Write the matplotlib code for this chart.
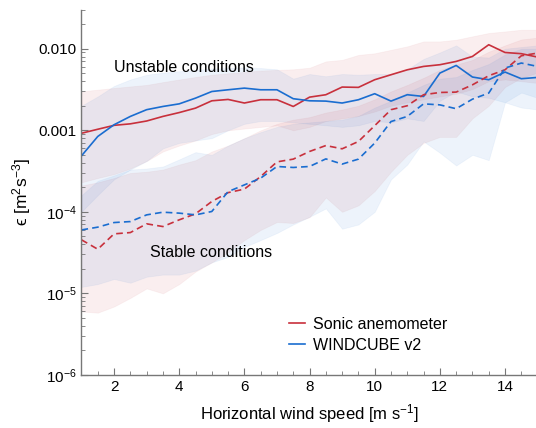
#!/usr/bin/env python3

# Dissipation rate vs horizontal wind speed, sonic anemometer vs WINDCUBE,
# for unstable (solid) and stable (dashed) conditions, with spread bands.

import numpy as np
import matplotlib
matplotlib.use("Agg")
import matplotlib.pyplot as plt
from matplotlib.colors import to_rgba
from matplotlib.ticker import FixedLocator, FuncFormatter

plt.rcParams["font.family"] = ["Liberation Sans", "DejaVu Sans"]
plt.rcParams["mathtext.fontset"] = "custom"
plt.rcParams["mathtext.rm"] = "Liberation Sans"
plt.rcParams["mathtext.it"] = "Liberation Sans:italic"

RED = "#c8303c"
BLUE = "#1a6dd0"

wind_speed = [1, 1.5, 2, 2.5, 3, 3.5, 4, 4.5, 5, 5.5, 6, 6.5, 7, 7.5, 8,
              8.5, 9, 9.5, 10, 10.5, 11, 11.5, 12, 12.5, 13, 13.5, 14, 14.5, 15]

# unstable conditions
sonic_unstable = [9.2e-4, 1.03e-3, 1.15e-3, 1.20e-3, 1.30e-3, 1.48e-3, 1.65e-3, 1.87e-3,
                  2.30e-3, 2.39e-3, 2.16e-3, 2.37e-3, 2.37e-3, 1.96e-3, 2.55e-3, 2.73e-3,
                  3.39e-3, 3.36e-3, 4.17e-3, 4.80e-3, 5.52e-3, 6.07e-3, 6.37e-3, 6.99e-3,
                  8.05e-3, 1.12e-2, 9.0e-3, 8.7e-3, 7.9e-3]
sonic_unstable_lo = [2.3e-4, 2.6e-4, 2.9e-4, 3.4e-4, 4.2e-4, 5.5e-4, 6.5e-4, 7.5e-4,
                     9.0e-4, 1.0e-3, 1.05e-3, 1.1e-3, 1.15e-3, 1.0e-3, 1.1e-3, 1.3e-3,
                     1.4e-3, 1.5e-3, 1.7e-3, 2.0e-3, 2.2e-3, 2.4e-3, 2.6e-3, 2.8e-3,
                     3.2e-3, 4.0e-3, 4.2e-3, 4.0e-3, 3.8e-3]
sonic_unstable_hi = [3.0e-3, 3.15e-3, 3.3e-3, 3.45e-3, 3.6e-3, 3.9e-3, 4.2e-3, 4.5e-3,
                     4.8e-3, 5.0e-3, 5.2e-3, 5.4e-3, 5.5e-3, 5.6e-3, 5.85e-3, 7.0e-3,
                     7.3e-3, 8.4e-3, 8.8e-3, 9.7e-3, 1.07e-2, 1.23e-2, 1.23e-2, 1.29e-2,
                     1.42e-2, 1.56e-2, 1.63e-2, 1.71e-2, 1.71e-2]

windcube_unstable = [4.86e-4, 8.4e-4, 1.17e-3, 1.48e-3, 1.79e-3, 1.96e-3, 2.11e-3, 2.48e-3,
                     2.99e-3, 3.14e-3, 3.29e-3, 3.14e-3, 3.14e-3, 2.44e-3, 2.30e-3, 2.28e-3,
                     2.16e-3, 2.37e-3, 2.81e-3, 2.28e-3, 2.73e-3, 2.60e-3, 5.03e-3, 6.24e-3,
                     4.50e-3, 4.17e-3, 5.18e-3, 4.29e-3, 4.45e-3]
windcube_unstable_lo = [1.0e-4, 1.6e-4, 2.5e-4, 3.3e-4, 4.2e-4, 6.0e-4, 7.0e-4, 7.5e-4,
                        8.0e-4, 1.0e-3, 1.2e-3, 1.3e-3, 1.3e-3, 1.25e-3, 1.2e-3, 1.15e-3,
                        1.1e-3, 1.15e-3, 1.3e-3, 1.25e-3, 1.4e-3, 1.3e-3, 2.3e-3, 3.0e-3,
                        2.6e-3, 2.5e-3, 2.2e-3, 1.9e-3, 1.8e-3]
windcube_unstable_hi = [2.0e-3, 2.6e-3, 3.5e-3, 4.2e-3, 4.8e-3, 5.1e-3, 5.3e-3, 5.5e-3,
                        5.7e-3, 5.8e-3, 5.9e-3, 5.8e-3, 5.6e-3, 4.3e-3, 4.9e-3, 4.6e-3,
                        4.9e-3, 4.8e-3, 4.9e-3, 4.9e-3, 5.6e-3, 7.5e-3, 9.0e-3, 1.1e-2,
                        8.0e-3, 7.8e-3, 1.0e-2, 1.05e-2, 1.1e-2]

# stable conditions
sonic_stable = [4.54e-5, 3.48e-5, 5.37e-5, 5.57e-5, 7.13e-5, 6.6e-5, 7.98e-5, 9.45e-5,
                1.34e-4, 1.72e-4, 1.90e-4, 2.71e-4, 4.1e-4, 4.43e-4, 5.5e-4, 6.5e-4,
                5.93e-4, 7.29e-4, 1.14e-3, 1.79e-3, 2.0e-3, 2.73e-3, 2.91e-3, 2.94e-3,
                3.61e-3, 4.67e-3, 5.52e-3, 8.2e-3, 8.85e-3]
sonic_stable_lo = [6.0e-6, 5.8e-6, 6.9e-6, 8.8e-6, 1.15e-5, 1.0e-5, 1.3e-5, 1.85e-5,
                   2.4e-5, 3.2e-5, 4.5e-5, 6.0e-5, 7.5e-5, 7.3e-5, 8.6e-5, 1.5e-4,
                   1.0e-4, 1.2e-4, 1.8e-4, 3.1e-4, 5.0e-4, 7.0e-4, 8.3e-4, 8.3e-4,
                   1.4e-3, 2.0e-3, 3.4e-3, 4.4e-3, 5.1e-3]
sonic_stable_hi = [2.1e-4, 2.3e-4, 2.6e-4, 3.0e-4, 3.1e-4, 3.3e-4, 3.8e-4, 4.3e-4,
                   5.5e-4, 6.5e-4, 8.0e-4, 1.0e-3, 1.2e-3, 1.35e-3, 1.45e-3, 1.65e-3,
                   1.8e-3, 2.0e-3, 2.4e-3, 3.0e-3, 3.6e-3, 4.4e-3, 5.5e-3, 6.4e-3,
                   7.3e-3, 9.2e-3, 1.1e-2, 1.3e-2, 1.37e-2]

windcube_stable = [6.0e-5, 6.49e-5, 7.39e-5, 7.6e-5, 9.18e-5, 9.9e-5, 9.64e-5, 9.18e-5,
                   1.01e-4, 1.77e-4, 2.14e-4, 2.59e-4, 3.6e-4, 3.5e-4, 3.6e-4, 4.46e-4,
                   3.85e-4, 4.43e-4, 6.97e-4, 1.28e-3, 1.48e-3, 2.11e-3, 2.05e-3, 1.84e-3,
                   2.41e-3, 2.86e-3, 5.8e-3, 6.68e-3, 6.07e-3]
windcube_stable_lo = [1.2e-5, 1.3e-5, 1.5e-5, 1.35e-5, 1.6e-5, 1.7e-5, 1.7e-5, 1.9e-5,
                      2.4e-5, 2.8e-5, 3.7e-5, 4.5e-5, 5.5e-5, 7.0e-5, 8.7e-5, 1.1e-4,
                      6.2e-5, 7.0e-5, 1.0e-4, 2.5e-4, 3.8e-4, 7.3e-4, 5.3e-4, 3.7e-4,
                      5.0e-4, 4.3e-4, 2.2e-3, 2.9e-3, 2.5e-3]
windcube_stable_hi = [1.6e-4, 2.4e-4, 2.8e-4, 3.3e-4, 3.4e-4, 3.6e-4, 4.4e-4, 5.4e-4,
                      5.0e-4, 6.5e-4, 8.0e-4, 9.5e-4, 1.1e-3, 1.2e-3, 1.25e-3, 1.3e-3,
                      1.35e-3, 1.5e-3, 1.9e-3, 2.3e-3, 2.9e-3, 3.6e-3, 4.3e-3, 4.5e-3,
                      5.5e-3, 6.5e-3, 8.5e-3, 1.0e-2, 1.0e-2]

ytick_vals = [1e-6, 1e-5, 1e-4, 1e-3, 1e-2]
ytick_labels = ["10$^{-6}$", "10$^{-5}$", "10$^{-4}$", "0.001", "0.010"]


def band(ax, lo, hi, color):
	ax.fill_between(wind_speed, lo, hi, facecolor=to_rgba(color, 0.08),
	                edgecolor=to_rgba(color, 0.05), linewidth=0.6)


def fmt_ytick(val, pos):
	for tv, lab in zip(ytick_vals, ytick_labels):
		if np.isclose(val, tv, rtol=1e-3):
			return lab
	return ""


fig = plt.figure(figsize=(5.36, 4.28), dpi=100)
ax = fig.add_axes([0.152, 0.124, 0.851, 0.853])

band(ax, sonic_unstable_lo, sonic_unstable_hi, RED)
band(ax, windcube_unstable_lo, windcube_unstable_hi, BLUE)
band(ax, sonic_stable_lo, sonic_stable_hi, RED)
band(ax, windcube_stable_lo, windcube_stable_hi, BLUE)

ax.plot(wind_speed, sonic_unstable, color=RED, lw=1.2, label="Sonic anemometer")
ax.plot(wind_speed, windcube_unstable, color=BLUE, lw=1.2, label="WINDCUBE v2")
ax.plot(wind_speed, sonic_stable, color=RED, lw=1.2, dashes=(4, 2.5))
ax.plot(wind_speed, windcube_stable, color=BLUE, lw=1.2, dashes=(4, 2.5))

ax.set_yscale("log")
ax.set_xlim(1, 15)
ax.set_ylim(1e-6, 3e-2)

ax.xaxis.set_major_locator(FixedLocator([2, 4, 6, 8, 10, 12, 14]))
ax.xaxis.set_minor_locator(FixedLocator(np.arange(1, 15.01, 0.5)))
ax.yaxis.set_major_locator(FixedLocator(ytick_vals))
ax.yaxis.set_major_formatter(FuncFormatter(fmt_ytick))
minor_y = [m * 10.0 ** e for e in range(-6, -1) for m in range(2, 10)]
ax.yaxis.set_minor_locator(FixedLocator(minor_y))
ax.yaxis.set_minor_formatter(FuncFormatter(lambda v, p: ""))

ax.tick_params(which="both", direction="in", colors="#777777", labelcolor="black",
               labelsize=11)
ax.tick_params(which="major", length=5, width=0.8)
ax.tick_params(which="minor", length=3, width=0.6)

for side in ("top", "right"):
	ax.spines[side].set_visible(False)
for side in ("left", "bottom"):
	ax.spines[side].set_color("#777777")
	ax.spines[side].set_linewidth(1.0)

ax.set_xlabel("Horizontal wind speed [m s$^{-1}$]", fontsize=12, labelpad=6)
ax.set_ylabel("\u03f5 [m$^2$s$^{-3}$]", fontsize=12.5, labelpad=4)

ax.text(2.0, 5.85e-3, "Unstable conditions", fontsize=11.5, va="center", ha="left")
ax.text(3.1, 3.16e-5, "Stable conditions", fontsize=11.5, va="center", ha="left")

ax.legend(loc="upper left", bbox_to_anchor=(0.455, 0.16), frameon=False,
          fontsize=11.5, handlelength=1.0, handletextpad=0.5,
          borderpad=0, borderaxespad=0, labelspacing=0.4)

fig.savefig("out.png", dpi=100)
